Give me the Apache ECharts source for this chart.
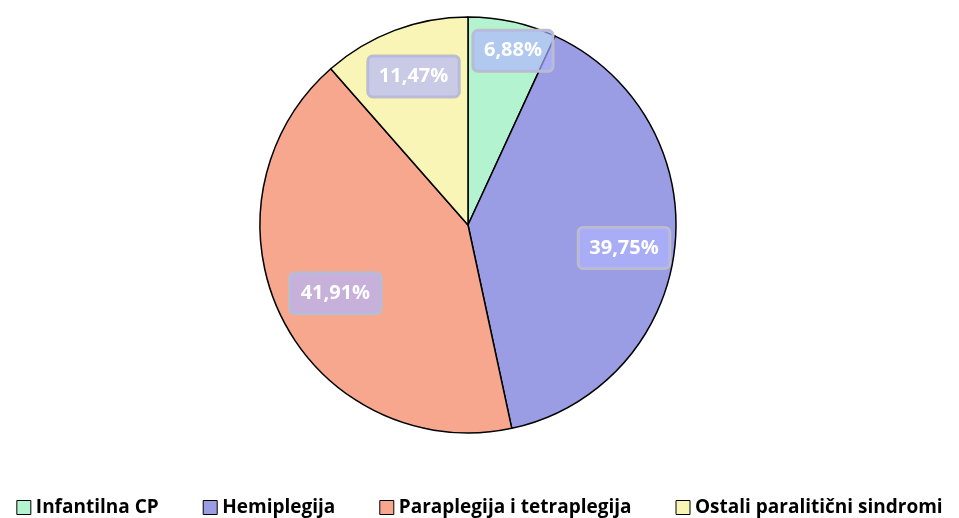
<!DOCTYPE html>
<html><head><meta charset="utf-8">
<script src="https://cdn.jsdelivr.net/npm/echarts@6/dist/echarts.min.js"></script>
<style>html,body{margin:0;padding:0;background:#fff}#c{width:959px;height:518px}</style>
</head><body><div id="c"></div>
<script>
const categories = ['Infantilna CP', 'Hemiplegija', 'Paraplegija i tetraplegija', 'Ostali paralitični sindromi'];
const values = [6.88, 39.75, 41.91, 11.47];
const colors = ['#B4F3CF', '#9B9DE4', '#F6A78E', '#F8F5B7'];

const chart = echarts.init(document.getElementById('c'));
const data = categories.map((n, i) => ({ name: n, value: values[i], itemStyle: { color: colors[i] } }));
const labelData = categories.map((n, i) => ({ name: n, value: values[i] }));
const font = '"Open Sans", Lato, sans-serif';
const labelShift = [{ dx: 10, dy: -15 }, { dx: -6, dy: 5 }, { dx: 13, dy: -5 }, { dx: 3, dy: 4 }];
chart.setOption({
  animation: false,
  legend: {
    bottom: -4, left: 'center',
    itemWidth: 14, itemHeight: 14, itemGap: 44, icon: 'rect',
    itemStyle: { borderColor: '#000', borderWidth: 1 },
    textStyle: { fontFamily: font, fontWeight: 'bold', fontSize: 19, color: '#000' },
    data: categories
  },
  series: [{
    type: 'pie', center: [468, 225], radius: [0, 208], startAngle: 90, clockwise: true,
    itemStyle: { borderColor: '#000', borderWidth: 1.5 },
    label: { show: false }, labelLine: { show: false },
    data: data
  }, {
    type: 'pie', center: [468, 225], radius: [112, 208], startAngle: 90, clockwise: true,
    silent: true, legendHoverLink: false,
    itemStyle: { color: 'rgba(0,0,0,0)', borderWidth: 0 },
    label: {
      show: true, position: 'inside',
      formatter: p => p.value.toFixed(2).replace('.', ',') + '%',
      fontFamily: font, fontWeight: 'bold', fontSize: 20, color: '#fff',
      backgroundColor: 'rgba(176,180,253,0.67)', borderColor: '#BFBFBF', borderWidth: 1.5, borderRadius: 5,
      padding: [11, 11, 10, 11]
    },
    labelLine: { show: false },
    labelLayout: p => labelShift[p.dataIndex],
    data: labelData
  }]
});
</script></body></html>
